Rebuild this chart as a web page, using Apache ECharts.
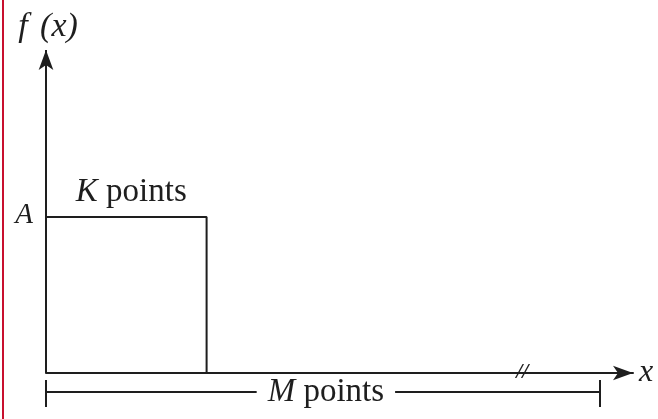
<!DOCTYPE html>
<html>
<head>
<meta charset="utf-8">
<script src="https://cdn.jsdelivr.net/npm/echarts@6/dist/echarts.min.js"></script>
<style>
  html, body { margin: 0; padding: 0; background: #fff; }
  #main { width: 658px; height: 419px; }
  #edge { position: absolute; left: 2px; top: 0; width: 2px; height: 419px; background: #c8102e; }
</style>
</head>
<body>
<div id="main"></div>
<div id="edge"></div>
<script>
// pulse of height A lasting K points, inside a record of M points
var A = 1;
var K = 29;
var M = 100;
var xMax = 106;
var yMax = 2.07;
var yMin = -0.25;
var pulse = [[0, A], [K, A], [K, 0]];
var dimY = -0.122;          // level of the M points dimension line
var dimTick = [-0.045, -0.218];
var breakAt = 86;           // position of the axis break mark

var serif = '"Liberation Serif", "Times New Roman", serif';
var ink = '#1e1e1e';

var myChart = echarts.init(document.getElementById('main'));

var option = {
    animation: false,
    grid: {
        left: 46,
        right: 25,
        top: 50,
        bottom: 7
    },
    xAxis: {
        type: 'value',
        min: 0,
        max: xMax,
        name: 'x',
        nameGap: 6,
        nameTextStyle: { fontFamily: serif, fontStyle: 'italic', fontSize: 32, color: ink, padding: [0, 0, 6, 0] },
        axisLine: {
            onZero: true,
            symbol: ['none', 'arrow'],
            symbolSize: [11, 20],
            lineStyle: { color: ink, width: 2 }
        },
        axisTick: { show: false },
        axisLabel: { show: false },
        splitLine: { show: false }
    },
    yAxis: {
        type: 'value',
        min: yMin,
        max: yMax,
        name: '{i|f} (x)',
        nameLocation: 'end',
        nameGap: 6,
        nameTextStyle: {
            fontFamily: serif, fontStyle: 'italic', fontSize: 34, color: ink,
            align: 'center', padding: [0, 0, 0, 4],
            rich: { i: { fontFamily: serif, fontStyle: 'italic', fontSize: 34, color: ink, padding: [0, 4, 0, 0] } }
        },
        axisLine: { show: false },
        axisTick: { show: false },
        axisLabel: { show: false },
        splitLine: { show: false }
    },
    series: [
        {
            type: 'line',
            data: pulse,
            symbol: 'none',
            silent: true,
            lineStyle: { color: ink, width: 2 },
            markLine: {
                silent: true,
                symbol: 'none',
                emphasis: { disabled: true },
                label: { show: false },
                lineStyle: { color: ink, width: 2, type: 'solid' },
                data: [
                    // vertical axis f(x), from zero up to the arrow
                    [
                        { coord: [0, 0], symbol: 'none' },
                        { coord: [0, yMax], symbol: 'arrow', symbolSize: [11, 20] }
                    ],
                    [
                        { coord: [0, dimY] },
                        { coord: [M, dimY] }
                    ],
                    [
                        { coord: [0, dimTick[0]] },
                        { coord: [0, dimTick[1]] }
                    ],
                    [
                        { coord: [M, dimTick[0]] },
                        { coord: [M, dimTick[1]] }
                    ]
                ]
            },
            markPoint: {
                silent: true,
                symbol: 'circle',
                symbolSize: 0,
                data: [
                    {
                        coord: [K / 2, A],
                        label: {
                            show: true, position: 'top', distance: 8, offset: [5, 0],
                            formatter: '{k|K} points',
                            fontFamily: serif, fontSize: 33, color: ink,
                            rich: { k: { fontFamily: serif, fontStyle: 'italic', fontSize: 33, color: ink } }
                        }
                    },
                    {
                        coord: [M / 2, dimY],
                        label: {
                            show: true, position: 'inside', offset: [3, 0],
                            formatter: '{m|M} points',
                            fontFamily: serif, fontSize: 33, color: ink,
                            backgroundColor: '#fff', padding: [0, 11, 0, 11],
                            rich: { m: { fontFamily: serif, fontStyle: 'italic', fontSize: 33, color: ink } }
                        }
                    },
                    {
                        coord: [0, A],
                        label: {
                            show: true, position: 'left', distance: 13, offset: [0, -2],
                            formatter: 'A',
                            fontFamily: serif, fontStyle: 'italic', fontSize: 29, color: ink
                        }
                    },
                    {
                        coord: [breakAt, 0],
                        label: {
                            show: true, position: 'inside', offset: [0, -1],
                            formatter: '//',
                            fontFamily: serif, fontStyle: 'italic', fontWeight: 'bold', fontSize: 22, color: ink
                        }
                    }
                ]
            }
        }
    ]
};
myChart.setOption(option);
</script>
</body>
</html>
